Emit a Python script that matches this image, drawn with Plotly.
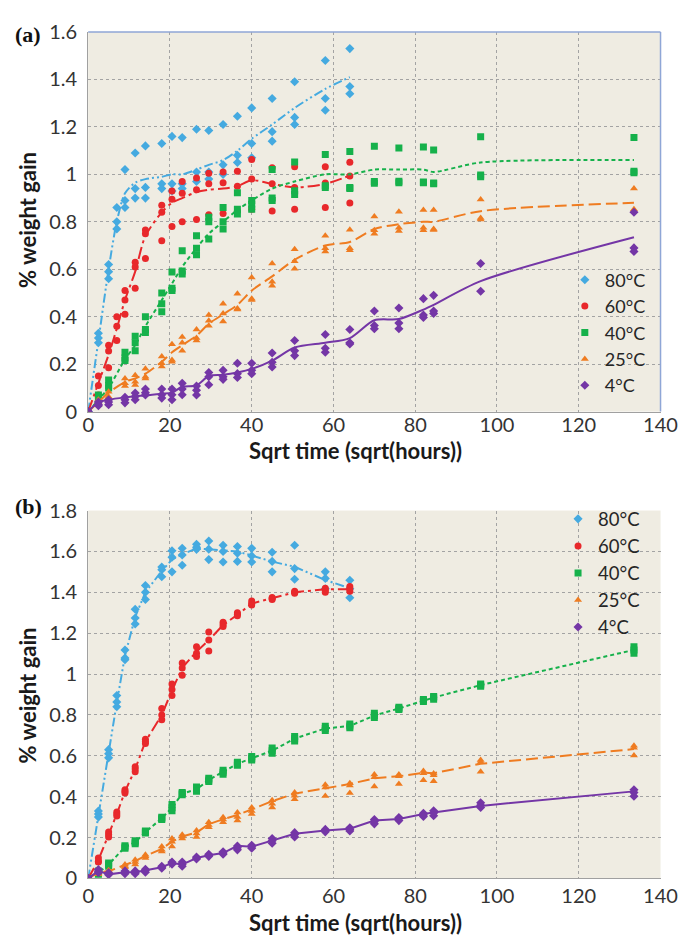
import plotly.graph_objects as go

# ---------------- sampling times, sqrt(hours) ----------------
T_SHORT = [0, 2.5, 5, 7, 9, 11.5, 14, 18, 20.5, 23, 26.5, 29.5, 33, 36.5, 40, 45, 50.5, 58, 64]
T_LONG = [0, 2.5, 5, 9, 11.5, 14, 18, 20.5, 23, 26.5, 29.5, 33, 36.5, 40, 45, 50.5, 58, 64,
          70, 76, 82, 84.5, 96, 133.5]

TICKS_X = [0, 20, 40, 60, 80, 100, 120, 140]

# ---------------- panel (a): replicate weight gains (%) ----------------
a80_reps = [[0, 0, 0], [0.33, 0.31, 0.29], [0.62, 0.59, 0.56], [0.86, 0.80, 0.77], [1.02, 0.89, 0.86],
            [1.09, 0.94, 0.90], [1.12, 0.945, 0.90], [1.13, 0.96, 0.94], [1.16, 0.96, 0.93],
            [1.155, 0.96, 0.94], [1.19, 1.01, 0.97], [1.185, 1.01, 0.98], [1.21, 1.04, 1.0],
            [1.245, 1.08, 1.05], [1.28, 1.13, 1.07], [1.32, 1.18, 1.14], [1.39, 1.24, 1.21],
            [1.48, 1.32, 1.27], [1.53, 1.37, 1.34]]
a80_fit = [0, 0.3, 0.6, 0.8, 0.92, 0.965, 0.98, 0.99, 1.0, 1.0, 1.02, 1.04, 1.06, 1.1, 1.15, 1.21,
           1.28, 1.36, 1.41]

a60_reps = [[0, 0, 0], [0.15, 0.11, 0.07], [0.28, 0.255, 0.185], [0.40, 0.36, 0.30], [0.51, 0.47, 0.41],
            [0.63, 0.61, 0.52], [0.765, 0.75, 0.645], [0.87, 0.84, 0.72], [0.93, 0.895, 0.78],
            [0.97, 0.92, 0.80], [0.985, 0.935, 0.81], [1.005, 0.96, 0.83], [1.01, 0.965, 0.835],
            [1.013, 0.95, 0.845], [1.063, 0.98, 0.853], [1.028, 0.96, 0.846], [1.032, 0.945, 0.853],
            [1.032, 0.964, 0.86], [1.051, 0.993, 0.879]]
a60_fit = [0, 0.12, 0.24, 0.35, 0.47, 0.59, 0.74, 0.84, 0.88, 0.9, 0.925, 0.935, 0.94, 0.95, 0.975,
           0.96, 0.945, 0.96, 0.995]

a40_reps = [[0, 0, 0], [0.07, 0.05, 0.035], [0.133, 0.11, 0.10], [0.25, 0.226, 0.215], [0.318, 0.29, 0.256],
            [0.40, 0.346, 0.333], [0.50, 0.455, 0.421], [0.588, 0.52, 0.51], [0.678, 0.593, 0.58],
            [0.741, 0.689, 0.661], [0.819, 0.80, 0.727], [0.86, 0.80, 0.77], [0.922, 0.853, 0.833],
            [0.89, 0.874, 0.853], [1.02, 0.90, 0.89], [1.052, 0.931, 0.915], [1.084, 0.952, 0.945],
            [1.096, 0.945, 0.94], [1.118, 0.97, 0.963], [1.111, 0.971, 0.965], [1.115, 0.968, 0.965],
            [1.103, 0.964, 0.96], [1.159, 0.997, 0.99], [1.155, 1.013, 1.007]]
a40_fit = [0, 0.05, 0.1, 0.22, 0.28, 0.36, 0.47, 0.54, 0.61, 0.69, 0.75, 0.8, 0.85, 0.89, 0.94, 0.97,
           1.0, 1.0, 1.02, 1.02, 1.02, 1.01, 1.05, 1.06]

a25_reps = [[0, 0, 0], [0.05, 0.04, 0.03], [0.084, 0.063, 0.06], [0.14, 0.119, 0.108], [0.153, 0.126, 0.112],
            [0.181, 0.147, 0.14], [0.232, 0.204, 0.19], [0.284, 0.218, 0.21], [0.314, 0.29, 0.256],
            [0.346, 0.31, 0.30], [0.407, 0.383, 0.362], [0.455, 0.414, 0.38], [0.497, 0.435, 0.43],
            [0.565, 0.476, 0.47], [0.624, 0.547, 0.53], [0.684, 0.634, 0.602], [0.741, 0.689, 0.675],
            [0.767, 0.689, 0.68], [0.822, 0.764, 0.75], [0.842, 0.775, 0.761], [0.85, 0.775, 0.764],
            [0.85, 0.77, 0.765], [0.894, 0.816, 0.81], [0.94, 0.853, 0.846]]
a25_fit = [0, 0.04, 0.08, 0.125, 0.14, 0.16, 0.21, 0.25, 0.28, 0.32, 0.37, 0.41, 0.45, 0.51, 0.57, 0.64,
           0.70, 0.715, 0.77, 0.79, 0.80, 0.80, 0.845, 0.88]

a4_reps = [[0, 0, 0], [0.04, 0.03, 0.025], [0.05, 0.04, 0.029], [0.06, 0.05, 0.037], [0.078, 0.064, 0.05],
           [0.095, 0.08, 0.07], [0.095, 0.071, 0.057], [0.095, 0.071, 0.05], [0.119, 0.095, 0.071],
           [0.108, 0.09, 0.07], [0.165, 0.147, 0.113], [0.174, 0.147, 0.136], [0.204, 0.16, 0.144],
           [0.204, 0.174, 0.16], [0.247, 0.208, 0.188], [0.30, 0.256, 0.236], [0.325, 0.267, 0.25],
           [0.346, 0.29, 0.285], [0.424, 0.363, 0.349], [0.437, 0.373, 0.349], [0.476, 0.407, 0.397],
           [0.49, 0.424, 0.414], [0.624, 0.507], [0.84, 0.69, 0.675]]
a4_fit = [0, 0.04, 0.05, 0.06, 0.065, 0.068, 0.075, 0.08, 0.105, 0.11, 0.15, 0.155, 0.165, 0.18, 0.215,
          0.27, 0.29, 0.31, 0.385, 0.39, 0.43, 0.45, 0.55, 0.735]

# ---------------- panel (b): replicate weight gains (%) ----------------
b80_reps = [[0, 0, 0], [0.33, 0.315, 0.30], [0.63, 0.61, 0.59], [0.895, 0.863, 0.84], [1.118, 1.078, 1.07],
            [1.317, 1.274, 1.245], [1.433, 1.40, 1.365], [1.524, 1.51, 1.476], [1.603, 1.572, 1.50],
            [1.615, 1.583, 1.532], [1.635, 1.62, 1.61], [1.651, 1.611, 1.56], [1.63, 1.60, 1.548],
            [1.624, 1.591, 1.551], [1.615, 1.578, 1.548], [1.596, 1.551, 1.50], [1.63, 1.516, 1.464],
            [1.50, 1.468, 1.417], [1.459, 1.417, 1.373]]
b80_fit = [0, 0.31, 0.61, 0.86, 1.09, 1.28, 1.40, 1.505, 1.56, 1.585, 1.615, 1.61, 1.605, 1.6, 1.58,
           1.55, 1.525, 1.46, 1.42]

b60_reps = [[0, 0, 0], [0.10, 0.084, 0.08], [0.227, 0.215, 0.203], [0.325, 0.315, 0.305], [0.434, 0.425, 0.418],
            [0.546, 0.535, 0.522], [0.681, 0.67, 0.66], [0.832, 0.80, 0.776], [0.951, 0.924, 0.895],
            [1.054, 1.03, 0.994], [1.134, 1.102, 1.086], [1.206, 1.166, 1.113], [1.253, 1.243, 1.233],
            [1.30, 1.293, 1.285], [1.357, 1.345, 1.338], [1.375, 1.37, 1.365], [1.405, 1.40, 1.395],
            [1.42, 1.41, 1.40], [1.428, 1.417, 1.405]]
b60_fit = [0, 0.09, 0.215, 0.315, 0.425, 0.535, 0.67, 0.80, 0.92, 1.03, 1.11, 1.165, 1.24, 1.29, 1.345,
           1.37, 1.40, 1.415, 1.415]

b40_reps = [[0, 0, 0], [0.036, 0.028, 0.02], [0.076, 0.068, 0.06], [0.16, 0.154, 0.148], [0.184, 0.177, 0.17],
            [0.232, 0.227, 0.222], [0.299, 0.294, 0.288], [0.362, 0.346, 0.331], [0.421, 0.415, 0.41],
            [0.447, 0.436, 0.426], [0.49, 0.482, 0.474], [0.529, 0.52, 0.51], [0.569, 0.561, 0.554],
            [0.596, 0.588, 0.58], [0.638, 0.625, 0.612], [0.694, 0.684, 0.673], [0.744, 0.734, 0.724],
            [0.756, 0.746, 0.737], [0.808, 0.797, 0.787], [0.838, 0.832, 0.826], [0.876, 0.872, 0.866],
            [0.89, 0.887, 0.877], [0.951, 0.946, 0.94], [1.134, 1.118, 1.102]]
b40_fit = [0, 0.028, 0.068, 0.154, 0.177, 0.227, 0.294, 0.346, 0.415, 0.436, 0.482, 0.52, 0.561, 0.588,
           0.625, 0.684, 0.734, 0.746, 0.797, 0.832, 0.872, 0.885, 0.946, 1.118]

b25_reps = [[0, 0, 0], [0.036, 0.027, 0.02], [0.04, 0.032, 0.028], [0.068, 0.06, 0.055], [0.092, 0.08, 0.068],
            [0.116, 0.108, 0.10], [0.156, 0.14, 0.132], [0.195, 0.18, 0.156], [0.214, 0.205, 0.195],
            [0.235, 0.22, 0.203], [0.275, 0.262, 0.251], [0.299, 0.288, 0.275], [0.323, 0.30, 0.283],
            [0.347, 0.33, 0.315], [0.383, 0.365, 0.347], [0.421, 0.405, 0.387], [0.458, 0.445, 0.403],
            [0.466, 0.455, 0.418], [0.509, 0.495, 0.45], [0.509, 0.50, 0.462], [0.526, 0.515, 0.48],
            [0.514, 0.505, 0.475], [0.58, 0.57, 0.522], [0.649, 0.64, 0.601]]
b25_fit = [0, 0.03, 0.035, 0.065, 0.085, 0.11, 0.145, 0.18, 0.205, 0.225, 0.265, 0.29, 0.31, 0.338,
           0.378, 0.415, 0.442, 0.462, 0.49, 0.50, 0.517, 0.515, 0.561, 0.633]

b4_reps = [[0, 0, 0], [0.044, 0.035, 0.028], [0.028, 0.023, 0.018], [0.037, 0.03, 0.023], [0.037, 0.03, 0.023],
           [0.045, 0.04, 0.03], [0.06, 0.055, 0.05], [0.08, 0.076, 0.07], [0.08, 0.07, 0.06],
           [0.105, 0.1, 0.095], [0.118, 0.113, 0.108], [0.13, 0.124, 0.118], [0.159, 0.15, 0.14],
           [0.162, 0.155, 0.148], [0.195, 0.185, 0.172], [0.224, 0.215, 0.203], [0.24, 0.235, 0.228],
           [0.248, 0.24, 0.232], [0.288, 0.278, 0.267], [0.298, 0.294, 0.283], [0.319, 0.311, 0.303],
           [0.331, 0.32, 0.307], [0.37, 0.358, 0.347], [0.434, 0.42, 0.402]]
b4_fit = [0, 0.037, 0.02, 0.03, 0.03, 0.04, 0.055, 0.076, 0.068, 0.1, 0.113, 0.124, 0.16, 0.155, 0.187,
          0.219, 0.235, 0.243, 0.283, 0.291, 0.315, 0.323, 0.355, 0.426]

# ---------------- series styling ----------------
LABELS = ["80°C", "60°C", "40°C", "25°C", "4°C"]
COLORS = ["#45AAE0", "#E8282B", "#16B14B", "#EF7C21", "#7436A6"]
SYMBOLS = ["diamond", "circle", "square", "triangle-up", "diamond"]
SIZES = [7, 7, 7, 7, 7]
DASHES = ["9px,3px,2px,3px,2px,3px", "12px,4px,3px,4px", "4px,3px", "12px,5px", "solid"]

FONT = "Lato, 'Open Sans', sans-serif"
W, H = 693, 945


def flatten(times, reps):
    xs, ys = [], []
    for t, vals in zip(times, reps):
        for v in vals:
            xs.append(t)
            ys.append(v)
    return xs, ys


panels = [
    dict(xa="x", ya="y", legend="legend", shape="spline",
         series=[(T_SHORT, a80_reps, a80_fit), (T_SHORT, a60_reps, a60_fit), (T_LONG, a40_reps, a40_fit),
                 (T_LONG, a25_reps, a25_fit), (T_LONG, a4_reps, a4_fit)]),
    dict(xa="x2", ya="y2", legend="legend2", shape="linear",
         series=[(T_SHORT, b80_reps, b80_fit), (T_SHORT, b60_reps, b60_fit), (T_LONG, b40_reps, b40_fit),
                 (T_LONG, b25_reps, b25_fit), (T_LONG, b4_reps, b4_fit)]),
]

fig = go.Figure()
for p in panels:
    for i, (t, reps, fit) in enumerate(p["series"]):
        fig.add_trace(go.Scatter(
            x=t, y=fit, mode="lines", xaxis=p["xa"], yaxis=p["ya"], showlegend=False,
            hoverinfo="skip",
            line=dict(color=COLORS[i], width=2, dash=DASHES[i], shape=p["shape"], smoothing=0.8),
        ))
        xs, ys = flatten(t, reps)
        fig.add_trace(go.Scatter(
            x=xs, y=ys, mode="markers", name=LABELS[i], xaxis=p["xa"], yaxis=p["ya"],
            legend=p["legend"],
            marker=dict(symbol=SYMBOLS[i], size=SIZES[i], color=COLORS[i], line=dict(width=0)),
        ))

x_dom = [85 / W, 677 / W]
axis_common = dict(
    showgrid=True, gridcolor="#A3A3A3", griddash="dot", gridwidth=1,
    showline=True, linecolor="#A0A0A0", linewidth=1, zeroline=False,
    ticks="", ticklabeloverflow="allow", tickfont=dict(family=FONT, size=20, color="#333333"),
)

legend_font = dict(family=FONT, size=18, color="#262626")
fig.update_layout(
    width=W, height=H, margin=dict(l=0, r=0, t=0, b=0),
    paper_bgcolor="white", plot_bgcolor="#EFECE2",
    xaxis=dict(domain=x_dom, anchor="y", range=[0, 140], tickvals=TICKS_X, ticklabelstandoff=-5,
               **axis_common),
    yaxis=dict(domain=[1 - 409 / H, 1 - 19.5 / H], anchor="x", range=[0, 1.6], dtick=0.2,
               ticklabelstandoff=6, **axis_common),
    xaxis2=dict(domain=x_dom, anchor="y2", range=[0, 140], tickvals=TICKS_X, **axis_common),
    yaxis2=dict(domain=[1 - 888 / H, 1 - 510.5 / H], anchor="x2", range=[0, 1.8], dtick=0.2,
                ticklabelstandoff=6, **axis_common),
    legend=dict(x=578 / W, y=1 - 255 / H, xanchor="left", yanchor="top", bgcolor="rgba(0,0,0,0)",
                font=legend_font),
    legend2=dict(x=571 / W, y=1 - 500 / H, xanchor="left", yanchor="top", bgcolor="rgba(0,0,0,0)",
                 font=dict(family=FONT, size=18.5, color="#262626")),
    showlegend=True,
)

# blue frame along the top and right of panel (a)
for x0, y0, x1, y1 in [(0, 1, 1, 1), (1, 0, 1, 1)]:
    fig.add_shape(type="line", xref="x domain", yref="y domain", x0=x0, y0=y0, x1=x1, y1=y1,
                  line=dict(color="#8FA6D6", width=1.5))

title_font = dict(family=FONT, size=22, color="#1A1A1A")
xt = "<b>Sqrt time (sqrt(hours))</b>"
yt = "<b>% weight gain</b>"
for ytitle_c, xtitle_c, tag, tag_c in [(212, 449, "(a)", 22), (700, 933, "(b)", 506)]:
    fig.add_annotation(text=xt, xref="paper", yref="paper", x=362 / W, y=1 - xtitle_c / H,
                       showarrow=False, font=title_font, xanchor="center", yanchor="middle")
    fig.add_annotation(text=yt, xref="paper", yref="paper", x=22 / W, y=1 - ytitle_c / H,
                       showarrow=False, font=title_font, textangle=-90, xanchor="center", yanchor="middle")
    fig.add_annotation(text="<b>%s</b>" % tag, xref="paper", yref="paper", x=23 / W, y=1 - tag_c / H,
                       showarrow=False, xanchor="center", yanchor="middle",
                       font=dict(family="'Liberation Serif', 'DejaVu Serif', serif", size=22, color="#111111"))

# the page carries no body margin, so the 693x945 figure fills the window exactly
fig.write_html("out.html", post_script="document.body.style.margin='0';"
                                       "document.body.style.overflow='hidden';")
